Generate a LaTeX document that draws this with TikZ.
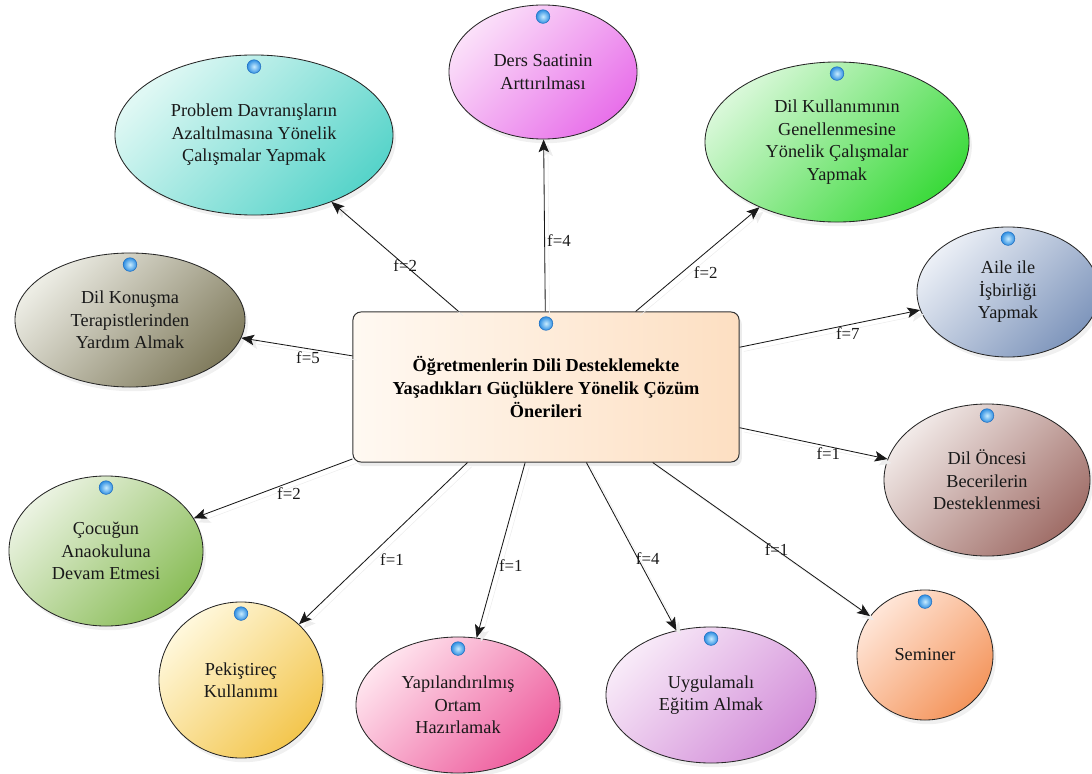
\documentclass[tikz,border=0pt]{standalone}
\usepackage{fontspec}
\setmainfont{Liberation Serif}
\usetikzlibrary{arrows.meta,shapes.geometric,shadows}

\definecolor{coreA}{HTML}{FFF9F2}
\definecolor{coreB}{HTML}{FDDFC2}
\definecolor{dersA}{HTML}{FBE0F9}
\definecolor{dersB}{HTML}{E870EA}
\definecolor{probA}{HTML}{DFF8F4}
\definecolor{probB}{HTML}{58D4CA}
\definecolor{kullA}{HTML}{D8F8D8}
\definecolor{kullB}{HTML}{3CDA3C}
\definecolor{aileA}{HTML}{EBEFF6}
\definecolor{aileB}{HTML}{7F96BC}
\definecolor{konA}{HTML}{ECECE4}
\definecolor{konB}{HTML}{817C5E}
\definecolor{cocA}{HTML}{EBF3E2}
\definecolor{cocB}{HTML}{8ABD58}
\definecolor{pekA}{HTML}{FFF8DC}
\definecolor{pekB}{HTML}{F3C64E}
\definecolor{yapA}{HTML}{FFE4EE}
\definecolor{yapB}{HTML}{EE5E9E}
\definecolor{uygA}{HTML}{F8EAF8}
\definecolor{uygB}{HTML}{D38ED9}
\definecolor{semA}{HTML}{FFE6D8}
\definecolor{semB}{HTML}{F4955C}
\definecolor{oncA}{HTML}{F1E9E7}
\definecolor{oncB}{HTML}{A06E68}
\definecolor{ballin}{HTML}{C8ECFF}
\definecolor{ballout}{HTML}{2F8FE2}
\definecolor{ballrim}{HTML}{2370C0}

\begin{document}
\begin{tikzpicture}[x=0.025cm, y=-0.025cm,
	o/.style 2 args={ellipse, draw=black!85, line width=0.6pt, inner sep=0pt, align=center, top color=#1, bottom color=#2, shading angle=45, text=black!90, font=\fontsize{13}{16}\selectfont, drop shadow={opacity=0.12, shadow xshift=2pt, shadow yshift=-3pt}},
	core/.style={rectangle, draw=black!80, line width=0.7pt, rounded corners=0.2cm, left color=coreA, right color=coreB, inner sep=0pt, align=center, minimum width=9.65cm, minimum height=3.75cm, font=\bfseries\fontsize{13}{16.5}\selectfont, drop shadow={opacity=0.15, shadow xshift=2pt, shadow yshift=-3pt}},
	arr/.style={-{Stealth[length=3.2mm, width=2.6mm, inset=0.7mm]}, line width=0.6pt, black!90, preaction={draw=black!7, transform canvas={shift={(3pt,-3pt)}}}},
	fr/.style={inner sep=1.5pt, font=\fontsize{12}{14}\selectfont}]
	\useasboundingbox (0,0) rectangle (1092,774);
	\node[core] (core) at (546,387) {Öğretmenlerin Dili Desteklemekte\\Yaşadıkları Güçlüklere Yönelik Çözüm\\Önerileri};
	\node[o={dersA}{dersB}, minimum width=4.7cm, minimum height=3.35cm] (ders) at (543,72) {Ders Saatinin\\Arttırılması};
	\node[o={probA}{probB}, minimum width=6.95cm, minimum height=4cm] (prob) at (254,135) {Problem Davranışların\\Azaltılmasına Yönelik\\Çalışmalar Yapmak};
	\node[o={kullA}{kullB}, minimum width=6.6cm, minimum height=4cm] (kull) at (837,142) {Dil Kullanımının\\Genellenmesine\\Yönelik Çalışmalar\\Yapmak};
	\node[o={aileA}{aileB}, minimum width=4.55cm, minimum height=3.25cm] (aile) at (1008,292) {Aile ile\\İşbirliği\\Yapmak};
	\node[o={konA}{konB}, minimum width=5.75cm, minimum height=3.35cm] (kon) at (130,320) {Dil Konuşma\\Terapistlerinden\\Yardım Almak};
	\node[o={cocA}{cocB}, minimum width=4.85cm, minimum height=3.75cm] (cocuk) at (106,551) {Çocuğun\\Anaokuluna\\Devam Etmesi};
	\node[o={pekA}{pekB}, minimum width=4.1cm, minimum height=3.9cm] (pek) at (241,680) {Pekiştireç\\Kullanımı};
	\node[o={yapA}{yapB}, minimum width=5.1cm, minimum height=3.4cm] (yap) at (458,705) {Yapılandırılmış\\Ortam\\Hazırlamak};
	\node[o={uygA}{uygB}, minimum width=5.25cm, minimum height=3.4cm] (uyg) at (711,695) {Uygulamalı\\Eğitim Almak};
	\node[o={semA}{semB}, minimum width=3.4cm, minimum height=3.25cm] (sem) at (925,655) {Seminer};
	\node[o={oncA}{oncB}, minimum width=5.15cm, minimum height=3.8cm] (once) at (987,480) {Dil Öncesi\\Becerilerin\\Desteklenmesi};
	% blue dots on top of every shape
	\foreach \n in {core,ders,prob,kull,aile,kon,cocuk,pek,yap,uyg,sem,once}
		\shade[inner color=ballin, outer color=ballout, draw=ballrim, line width=0.4pt] ([yshift=-0.3cm]\n.north) circle (0.17cm);
	\draw[arr] (core) -- (ders) node[fr, pos=.41, anchor=west] {f=4};
	\draw[arr] (core) -- (prob) node[fr, pos=.42] {f=2};
	\draw[arr] (core) -- (kull) node[fr, pos=.45, anchor=north west] {f=2};
	\draw[arr] (core) -- (aile) node[fr, pos=.6, anchor=north] {f=7};
	\draw[arr] (core) -- (kon) node[fr, pos=.4, anchor=north] {f=5};
	\draw[arr] (core) -- (cocuk) node[fr, pos=.4, anchor=north, yshift=-2pt] {f=2};
	\draw[arr] (core) -- (pek) node[fr, pos=.6, anchor=west, xshift=8pt] {f=1};
	\draw[arr] (core) -- (yap) node[fr, pos=.59, anchor=west] {f=1};
	\draw[arr] (core) -- (uyg) node[fr, pos=.57, anchor=west, xshift=-3pt] {f=4};
	\draw[arr] (core) -- (sem) node[fr, pos=.57] {f=1};
	\draw[arr] (core) -- (once) node[fr, pos=.6, yshift=-5pt] {f=1};
\end{tikzpicture}
\end{document}
